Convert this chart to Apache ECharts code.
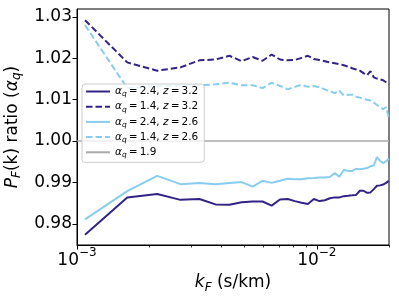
<!DOCTYPE html>
<html><head><meta charset="utf-8">
<script src="https://cdn.jsdelivr.net/npm/echarts@6/dist/echarts.min.js"></script>
<style>html,body{margin:0;padding:0;background:#fff}#c{width:399px;height:299px}</style>
</head><body><div id="c"></div>
<script>
// k_F sample points (s/km)
const kF = [0.00108,0.00162,0.00216,0.00270,0.00324,0.00378,0.00432,0.00486,0.00540,0.00594,
  0.00648,0.00702,0.00756,0.00810,0.00864,0.00918,0.00972,0.01026,0.01080,0.01134,
  0.01188,0.01242,0.01296,0.01350,0.01404,0.01458,0.01512,0.01566,0.01620,0.01674,
  0.01728,0.01782,0.01836,0.01890,0.01944,0.01998];
// alpha_q = 2.4, z = 3.2
const a24z32 = [0.9774,0.9864,0.9872,0.9858,0.9860,0.9847,0.9846,0.9852,0.9854,0.9854,
  0.9844,0.9859,0.9860,0.9855,0.9851,0.9848,0.9860,0.9855,0.9857,0.9862,
  0.9864,0.9864,0.9867,0.9868,0.9869,0.9870,0.9880,0.9880,0.9875,0.9876,
  0.9884,0.9892,0.9893,0.9895,0.9899,0.9904];
// alpha_q = 1.4, z = 3.2
const a14z32 = [1.0292,1.0190,1.0170,1.0178,1.0195,1.0197,1.0206,1.0193,1.0203,1.0194,
  1.0209,1.0197,1.0195,1.0196,1.0201,1.0206,1.0198,1.0196,1.0193,1.0190,
  1.0188,1.0186,1.0183,1.0180,1.0176,1.0173,1.0170,1.0164,1.0159,1.0169,
  1.0154,1.0151,1.0149,1.0147,1.0142,1.0137];
// alpha_q = 2.4, z = 2.6
const a24z26 = [0.9811,0.9879,0.9916,0.9896,0.9899,0.9896,0.9899,0.9901,0.9890,0.9904,
  0.9899,0.9904,0.9909,0.9908,0.9908,0.9910,0.9911,0.9912,0.9912,0.9913,
  0.9923,0.9914,0.9930,0.9928,0.9928,0.9933,0.9932,0.9933,0.9935,0.9939,
  0.9941,0.9961,0.9952,0.9947,0.9951,0.9958];
// alpha_q = 1.4, z = 2.6
const a14z26 = [1.0280,1.0128,1.0133,1.0134,1.0135,1.0137,1.0141,1.0135,1.0135,1.0128,
  1.0141,1.0133,1.0125,1.0131,1.0136,1.0131,1.0133,1.0130,1.0125,1.0120,
  1.0116,1.0122,1.0110,1.0112,1.0112,1.0107,1.0105,1.0102,1.0100,1.0098,
  1.0093,1.0087,1.0083,1.0077,1.0082,1.0055];
// alpha_q = 1.9 reference (ratio 1)
const refK = [0.001, 0.02];
const refV = [1.0, 1.0];

const yTicks = [0.98, 0.99, 1.00, 1.01, 1.02, 1.03];
const xMajor = [0.001, 0.01];
const xMinor = [0.002,0.003,0.004,0.005,0.006,0.007,0.008,0.009,0.02];
const EQ = '\u2009=\u2009';
const legendLabels = {
  a24z32: '{g|α}{s|q}{t|' + EQ + '2.4, }{i|z}{t|' + EQ + '3.2}',
  a14z32: '{g|α}{s|q}{t|' + EQ + '1.4, }{i|z}{t|' + EQ + '3.2}',
  a24z26: '{g|α}{s|q}{t|' + EQ + '2.4, }{i|z}{t|' + EQ + '2.6}',
  a14z26: '{g|α}{s|q}{t|' + EQ + '1.4, }{i|z}{t|' + EQ + '2.6}',
  a19: '{g|α}{s|q}{t|' + EQ + '1.9}'
};

const DARK = '#332288', LIGHT = '#88CCEE', GRAY = '#aaaaaa';
const FONT = 'DejaVu Sans';
const pair = (ks, vs) => ks.map((k, i) => [k, vs[i]]);

const chart = echarts.init(document.getElementById('c'), null, {renderer: 'canvas'});
const lineS = (name, vals, color, dashed) => ({
  name, type: 'line', data: pair(kF, vals), showSymbol: false, symbol: 'none',
  lineStyle: {color, width: 2, type: dashed ? [6.5, 3] : 'solid'},
  itemStyle: {color}, animation: false
});
chart.setOption({
  animation: false,
  grid: {left: 77, right: 10, top: 9, bottom: 54, show: true, borderColor: '#000', borderWidth: 1,
         backgroundColor: 'transparent', containLabel: false, outerBoundsMode: 'none'},
  xAxis: [{
    type: 'log', logBase: 10, min: 0.001, max: 0.02, position: 'bottom',
    axisLine: {show: true, lineStyle: {color: '#000', width: 1}},
    axisTick: {show: true, length: 4.5, customValues: xMajor, lineStyle: {color: '#000', width: 1}},
    axisLabel: {show: true, customValues: xMajor, margin: 2, color: '#000',
      formatter: v => '{b|10}{p|−' + Math.round(-Math.log10(v)) + '}',
      rich: {b: {fontFamily: FONT, fontSize: 17, lineHeight: 22, verticalAlign: 'bottom', color: '#000'},
             p: {fontFamily: FONT, fontSize: 12, lineHeight: 12, verticalAlign: 'top', color: '#000'}}},
    splitLine: {show: false},
    name: '{i|k}{s|F}{t| (s/km)}', nameLocation: 'middle', nameGap: 25,
    nameTextStyle: {rich: {
      i: {fontFamily: FONT, fontStyle: 'italic', fontSize: 17, lineHeight: 22, color: '#000'},
      s: {fontFamily: FONT, fontStyle: 'italic', fontSize: 12, lineHeight: 12, verticalAlign: 'bottom', color: '#000'},
      t: {fontFamily: FONT, fontSize: 17, lineHeight: 22, color: '#000'}}}
  }, {
    type: 'log', logBase: 10, min: 0.001, max: 0.02, position: 'bottom', gridIndex: 0,
    axisLine: {show: false},
    axisTick: {show: true, length: 2.5, customValues: xMinor, lineStyle: {color: '#000', width: 0.8}},
    axisLabel: {show: false}, splitLine: {show: false}
  }],
  yAxis: {
    type: 'value', min: 0.9749, max: 1.0319,
    axisLine: {show: true, lineStyle: {color: '#000', width: 1}},
    axisTick: {show: true, length: 4.5, customValues: yTicks, lineStyle: {color: '#000', width: 1}},
    axisLabel: {customValues: yTicks, formatter: v => v.toFixed(2), fontFamily: FONT, fontSize: 17, color: '#000', margin: 5},
    splitLine: {show: false},
    name: '{i|P}{s|F}{t|(k) ratio (}{g|α}{s|q}{t|)}', nameLocation: 'middle', nameRotate: 90, nameGap: 52,
    nameTextStyle: {rich: {
      i: {fontFamily: FONT, fontStyle: 'italic', fontSize: 17, lineHeight: 22, color: '#000'},
      g: {fontFamily: FONT, fontStyle: 'italic', fontSize: 17, lineHeight: 22, color: '#000'},
      s: {fontFamily: FONT, fontStyle: 'italic', fontSize: 12, lineHeight: 12, verticalAlign: 'bottom', color: '#000'},
      t: {fontFamily: FONT, fontSize: 17, lineHeight: 22, color: '#000'}}}
  },
  legend: {
    orient: 'vertical', left: 82, top: 84, itemWidth: 24, itemHeight: 10, itemGap: 2.7,
    padding: [2, 6, 3, 3], backgroundColor: 'rgba(255,255,255,0.8)', borderColor: '#cccccc', borderWidth: 1, borderRadius: 3,
    itemStyle: {opacity: 0, color: 'rgba(0,0,0,0)', borderWidth: 0},
    data: ['a24z32', 'a14z32', 'a24z26', 'a14z26', 'a19'],
    formatter: n => legendLabels[n],
    textStyle: {rich: {
      t: {fontFamily: FONT, fontSize: 10.5, lineHeight: 14, color: '#000'},
      g: {fontFamily: FONT, fontStyle: 'italic', fontSize: 10.5, lineHeight: 14, color: '#000'},
      i: {fontFamily: FONT, fontStyle: 'italic', fontSize: 10.5, lineHeight: 14, color: '#000'},
      s: {fontFamily: FONT, fontStyle: 'italic', fontSize: 7.5, lineHeight: 8, verticalAlign: 'bottom', color: '#000'}}}
  },
  series: [
    lineS('a24z32', a24z32, DARK, false),
    lineS('a14z32', a14z32, DARK, true),
    lineS('a24z26', a24z26, LIGHT, false),
    lineS('a14z26', a14z26, LIGHT, true),
    {name: 'a19', type: 'line', data: pair(refK, refV), showSymbol: false, symbol: 'none',
     lineStyle: {color: GRAY, width: 1.5}, itemStyle: {color: GRAY}}
  ]
});
</script></body></html>
